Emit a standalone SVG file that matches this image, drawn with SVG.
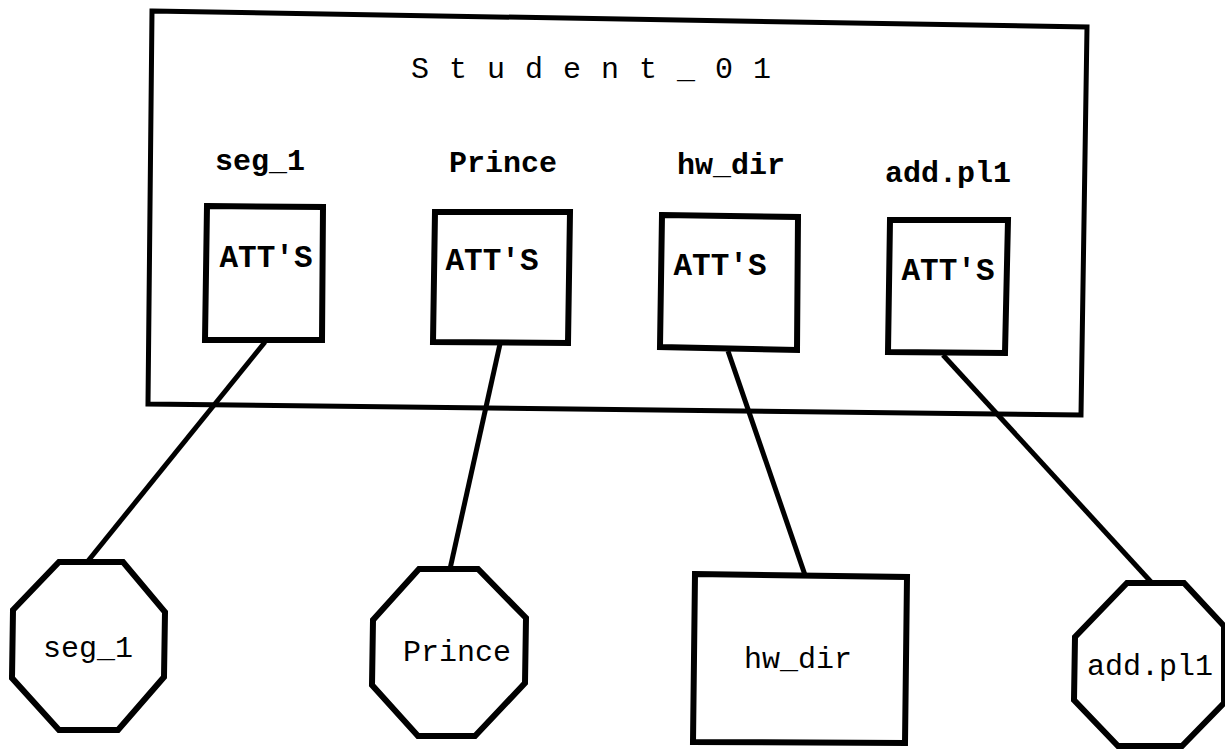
<svg xmlns="http://www.w3.org/2000/svg" width="1225" height="749" viewBox="0 0 1225 749">
<style>
  .bg { fill: #ffffff; }
  .frame { fill: #ffffff; stroke: #000000; stroke-width: 5; stroke-linejoin: miter; }
  .att { fill: #ffffff; stroke: #000000; stroke-width: 6; stroke-linejoin: miter; }
  .oct { fill: #ffffff; stroke: #000000; stroke-width: 6; stroke-linejoin: miter; }
  .conn { fill: none; stroke: #000000; stroke-width: 5; stroke-linecap: butt; }
  .title { font-family: "Liberation Mono", "DejaVu Sans Mono", monospace; font-size: 30px; fill: #000000; letter-spacing: 20px; }
  .lbl { font-family: "Liberation Mono", "DejaVu Sans Mono", monospace; font-size: 30px; font-weight: bold; fill: #000000; text-anchor: middle; }
  .attl { font-family: "Liberation Mono", "DejaVu Sans Mono", monospace; font-size: 31px; font-weight: bold; fill: #000000; text-anchor: middle; }
  .nlbl { font-family: "Liberation Mono", "DejaVu Sans Mono", monospace; font-size: 30px; fill: #000000; text-anchor: middle; }
</style>
<rect class="bg" x="0" y="0" width="1225" height="749"/>

<g id="student_01">
  <polygon class="frame" points="152,11 1087,27 1081,415 148,404"/>
  <text class="title" x="411" y="78">Student_01</text>
</g>

<g id="connectors">
  <line class="conn" x1="265" y1="342" x2="88" y2="561"/>
  <line class="conn" x1="500" y1="344" x2="450" y2="569"/>
  <line class="conn" x1="728" y1="351" x2="805" y2="575"/>
  <line class="conn" x1="943" y1="355" x2="1152" y2="583"/>
</g>

<g id="att_seg_1">
  <text class="lbl" x="260" y="170">seg_1</text>
  <polygon class="att" points="207,206 323,207 322,340 205,340"/>
  <text class="attl" x="266" y="267">ATT'S</text>
</g>

<g id="att_prince">
  <text class="lbl" x="503" y="172">Prince</text>
  <polygon class="att" points="435,212 570,212 568,343 433,342"/>
  <text class="attl" x="492" y="270">ATT'S</text>
</g>

<g id="att_hw_dir">
  <text class="lbl" x="731" y="174">hw_dir</text>
  <polygon class="att" points="662,215 798,217 797,350 660,347"/>
  <text class="attl" x="720" y="275">ATT'S</text>
</g>

<g id="att_add_pl1">
  <text class="lbl" x="948" y="182">add.pl1</text>
  <polygon class="att" points="890,220 1008,220 1005,353 888,352"/>
  <text class="attl" x="948" y="280">ATT'S</text>
</g>

<g id="seg_1">
  <polygon class="oct" points="59,562 123,562 165,612 164,677 118,730 59,730 12,678 13,610"/>
  <text class="nlbl" x="88" y="657">seg_1</text>
</g>

<g id="prince">
  <polygon class="oct" points="419,569 478,569 526,618 525,683 475,736 418,736 372,685 373,620"/>
  <text class="nlbl" x="457" y="661">Prince</text>
</g>

<g id="hw_dir">
  <polygon class="att" points="695,574 907,577 905,743 693,742"/>
  <text class="nlbl" x="798" y="668">hw_dir</text>
</g>

<g id="add_pl1">
  <polygon class="oct" points="1127,583 1184,583 1224,626 1224,703 1182,746 1118,746 1074,700 1075,637"/>
  <text class="nlbl" x="1150" y="675">add.pl1</text>
</g>
</svg>
